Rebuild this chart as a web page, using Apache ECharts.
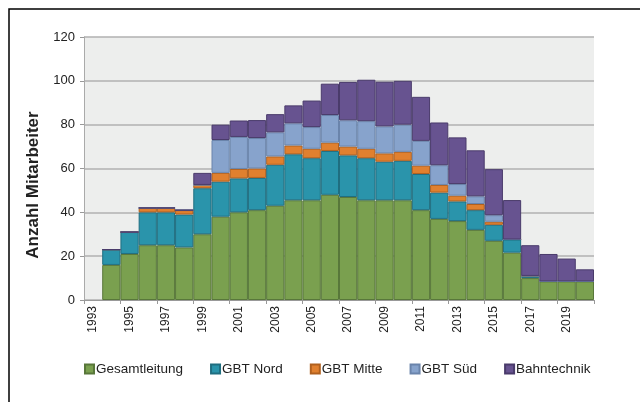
<!DOCTYPE html>
<html>
<head>
<meta charset="utf-8">
<script src="https://cdn.jsdelivr.net/npm/echarts@6/dist/echarts.min.js"></script>
<style>
  html, body { margin: 0; padding: 0; background: #fff; }
  #main { width: 640px; height: 402px; }
</style>
</head>
<body>
<div id="main"></div>
<script>
var years = [];
for (var y = 1993; y <= 2020; y++) years.push(String(y));

// values per year (1993 has no data)
var gesamt  = [null, 16, 21, 25, 25, 24, 30, 38, 40, 41, 43, 45.5, 45.5, 48, 47, 45.5, 45.5, 45.5, 41, 37, 36, 32, 27, 21.6, 10, 8.5, 8.5, 8.5];
var nord    = [null, 7, 10, 15, 15, 15, 21, 16, 15.5, 14.7, 18.7, 21, 19.2, 20, 19, 19.2, 17.6, 18, 16.5, 12, 9, 9, 7.3, 6, 1, 0, 0, 0];
var mitte   = [null, 0, 0, 2, 2, 2, 1.5, 4, 4.3, 4.3, 3.8, 4, 4.3, 3.8, 4, 4.3, 3.8, 4.1, 3.8, 3.5, 2.6, 2.8, 1.4, 0, 0, 0, 0, 0];
var sued    = [null, 0, 0, 0, 0, 0, 0, 15, 14.6, 13.9, 11, 10.1, 9.9, 12.6, 12, 12.6, 12.3, 12.4, 11.3, 9, 5.3, 3.5, 3, 0, 0, 0, 0, 0];
var bahn    = [null, 0, 0, 0, 0, 0, 5.5, 7, 7.5, 8.2, 8.3, 8.2, 12.1, 14.3, 17.5, 18.9, 20.4, 20, 20.1, 19.5, 21.3, 21, 21, 18, 14, 12.5, 10.4, 5.5];

var names   = ['Gesamtleitung', 'GBT Nord', 'GBT Mitte', 'GBT Süd', 'Bahntechnik'];
var colors  = ['#7aa04f', '#2a94ab', '#e0802f', '#87a3cc', '#675390'];
var borders = ['#58773a', '#1f6e80', '#b0601e', '#6a84ab', '#4a3b6b'];

var chart = echarts.init(document.getElementById('main'));

var series = [gesamt, nord, mitte, sued, bahn].map(function (d, i) {
  return {
    name: names[i],
    type: 'bar',
    stack: 'total',
    barCategoryGap: '0%',
    data: d,
    itemStyle: { color: colors[i], borderColor: borders[i], borderWidth: 1 }
  };
});

chart.setOption({
  animation: false,
  textStyle: { fontFamily: 'Liberation Sans, Arial, sans-serif' },
  graphic: [{
    type: 'rect',
    shape: { x: 9, y: 9, width: 700, height: 500 },
    style: { fill: 'none', stroke: '#000', lineWidth: 1.5 }
  }, {
    // axis title, sits a bit below the plot's middle like the original
    type: 'text',
    x: 33, y: 185,
    rotation: Math.PI / 2,
    style: {
      text: 'Anzahl Mitarbeiter',
      fontSize: 17, fontWeight: 'bold', fill: '#222',
      fontFamily: 'Liberation Sans, Arial, sans-serif',
      align: 'center', verticalAlign: 'middle'
    }
  }],
  grid: {
    left: 84, right: 46, top: 37, bottom: 102,
    show: true, backgroundColor: '#edeeed', borderWidth: 0
  },
  legend: {
    bottom: 21,
    left: 79,
    itemWidth: 9,
    itemHeight: 9,
    itemGap: 27,
    icon: 'rect',
    textStyle: { fontSize: 13.5, color: '#222', padding: [0, 0, 0, -3] },
    data: names
  },
  xAxis: {
    type: 'category',
    data: years,
    axisLine: { lineStyle: { color: '#999' } },
    axisTick: { show: true, length: 4, lineStyle: { color: '#999' } },
    axisLabel: { rotate: 90, interval: 1, fontSize: 12, color: '#222', margin: 6 }
  },
  yAxis: {
    type: 'value',
    min: 0, max: 120, interval: 20,
    axisLine: { show: true, lineStyle: { color: '#aaa' } },
    axisTick: { show: true, length: 4, lineStyle: { color: '#999' } },
    axisLabel: { fontSize: 13, color: '#222', margin: 9 },
    splitLine: { lineStyle: { color: '#b0b0b0', width: 1.5 } }
  },
  series: series
});
</script>
</body>
</html>
